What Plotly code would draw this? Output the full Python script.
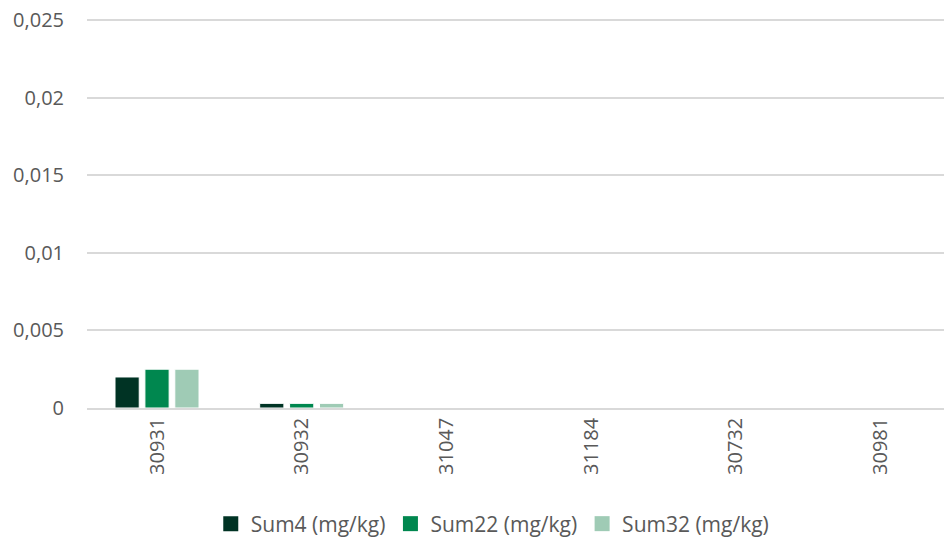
import plotly.graph_objects as go

categories = ["30931", "30932", "31047", "31184", "30732", "30981"]
sum4 = [0.002, 0.0003, 0, 0, 0, 0]
sum22 = [0.0025, 0.0003, 0, 0, 0, 0]
sum32 = [0.0025, 0.0003, 0, 0, 0, 0]
series_names = ["Sum4 (mg/kg)", "Sum22 (mg/kg)", "Sum32 (mg/kg)"]
colors = ["#003324", "#00874F", "#9FCBB5"]

fig = go.Figure()
for name, vals, col in zip(series_names, [sum4, sum22, sum32], colors):
    fig.add_trace(go.Bar(x=categories, y=vals, name=name, showlegend=False,
                         marker=dict(color=col, line=dict(color="white", width=1))))
# legend entries with square swatches
for name, col in zip(series_names, colors):
    fig.add_trace(go.Scatter(x=[None], y=[None], mode="markers", name=name,
                             marker=dict(symbol="square", size=15, color=col)))

font_family = "Open Sans, Liberation Sans, sans-serif"
fig.update_layout(
    width=944, height=540,
    margin=dict(l=87, r=0, t=17, b=132, autoexpand=False),
    plot_bgcolor="white", paper_bgcolor="white",
    barmode="group", bargap=0.38, bargroupgap=0.19,
    separators=",.",
    font=dict(family=font_family, size=20, color="#595959"),
    xaxis=dict(range=[-0.484, 5.44], tickangle=-90, showgrid=False,
               showline=True, linecolor="#D9D9D9", linewidth=1.5,
               ticks="", tickfont=dict(size=20, color="#595959"),
               automargin=False),
    yaxis=dict(range=[0, 0.0252], dtick=0.005, showgrid=True,
               gridcolor="#D9D9D9", gridwidth=1.5, zeroline=False,
               ticks="", tickfont=dict(size=20, color="#595959"),
               ticklabelstandoff=22, automargin=False),
    legend=dict(orientation="h", xref="container", x=0.522, xanchor="center",
                yref="container", y=1 - 524 / 540, yanchor="middle",
                font=dict(size=21, color="#595959"), itemwidth=30,
                tracegroupgap=0),
    showlegend=True,
)
fig.write_html("out.html")
